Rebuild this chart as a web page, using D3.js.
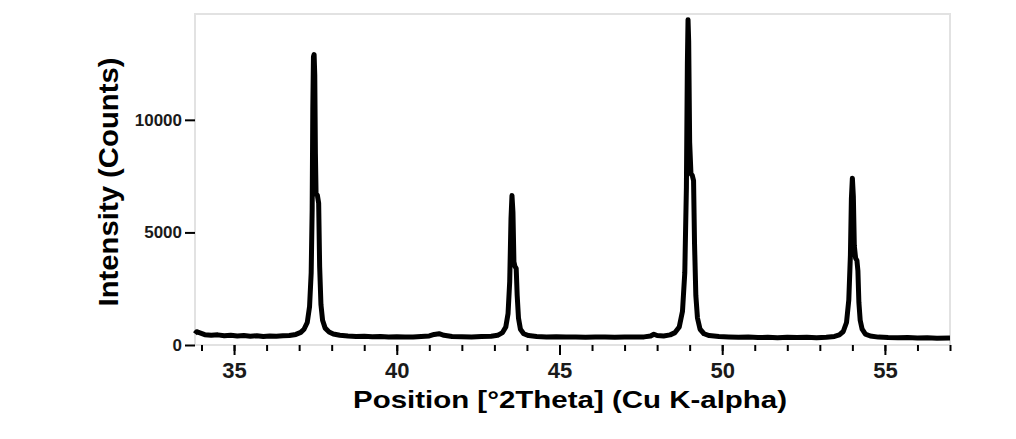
<!DOCTYPE html>
<html lang="en">

    <head>
        <meta charset="UTF-8">
        <title>XRD pattern</title>
        <!-- Load d3.js -->
        <script src="https://d3js.org/d3.v7.min.js"></script>
        <style>
          body { margin: 0; background: #fff; }
        </style>
    </head>

    <body>
        <!-- Create a div where the graph will take place -->
        <div id="xrd"></div>

        <script>

          // position in degrees 2theta
          var twoTheta = [
            33.80, 33.85, 33.95, 34.10, 34.30, 34.50, 34.70, 34.90, 35.10, 35.30,
            35.50, 35.70, 35.90, 36.10, 36.30, 36.50, 36.70, 36.90, 37.05, 37.15,
            37.25, 37.32, 37.37, 37.40, 37.42, 37.44, 37.46, 37.48, 37.50, 37.52,
            37.56, 37.60, 37.63, 37.67, 37.72, 37.80, 37.92, 38.05, 38.25, 38.50,
            38.75, 39.00, 39.25, 39.50, 39.75, 40.00, 40.25, 40.50, 40.75, 41.00,
            41.15, 41.30, 41.45, 41.70, 42.00, 42.30, 42.60, 42.90, 43.10, 43.25,
            43.35, 43.42, 43.47, 43.51, 43.54, 43.57, 43.60, 43.63, 43.67, 43.70,
            43.74, 43.80, 43.90, 44.05, 44.30, 44.60, 44.90, 45.20, 45.50, 45.80,
            46.10, 46.40, 46.70, 47.00, 47.30, 47.60, 47.80, 47.90, 48.00, 48.20,
            48.40, 48.55, 48.68, 48.78, 48.85, 48.90, 48.93, 48.95, 48.97, 49.00,
            49.04, 49.08, 49.12, 49.15, 49.19, 49.24, 49.32, 49.44, 49.60, 49.90,
            50.20, 50.50, 50.80, 51.10, 51.40, 51.70, 52.00, 52.30, 52.60, 52.90,
            53.20, 53.45, 53.60, 53.72, 53.82, 53.89, 53.94, 53.97, 54.00, 54.03,
            54.06, 54.10, 54.14, 54.17, 54.20, 54.24, 54.30, 54.40, 54.55, 54.80,
            55.10, 55.40, 55.70, 56.00, 56.30, 56.60, 57.00
          ];

          // intensity in counts at each position
          var counts = [
            500, 590, 540, 460, 430, 450, 410, 430, 400, 420,
            390, 410, 380, 400, 390, 410, 420, 470, 560, 700,
            1000, 1700, 3200, 6000, 10500, 12800, 12900, 12000, 8500, 6700,
            6650, 6300, 3500, 1800, 1100, 750, 580, 490, 430, 400,
            380, 390, 370, 380, 360, 370, 350, 360, 380, 400,
            470, 500, 430, 380, 370, 360, 380, 390, 430, 550,
            800, 1400, 2800, 5600, 6640, 5900, 3700, 3500, 3400, 2200,
            1200, 700, 500, 420, 380, 360, 370, 350, 360, 340,
            360, 350, 340, 360, 350, 360, 400, 480, 420, 400,
            450, 550, 800, 1500, 3200, 7000, 12500, 14450, 13500, 9000,
            7600, 7530, 7300, 4500, 2200, 1200, 700, 500, 420, 380,
            360, 340, 350, 330, 340, 320, 340, 330, 340, 320,
            340, 380, 450, 600, 1000, 2000, 4000, 6500, 7410, 6600,
            4400, 3850, 3750, 3300, 1900, 1100, 700, 480, 400, 350,
            330, 320, 330, 310, 320, 300, 310
          ];

          var data = twoTheta.map(function(t, i) { return {pos: t, cnt: counts[i]}; });

          var majorTicks = [35, 40, 45, 50, 55];
          var minorTicks = d3.range(34, 58, 1);
          var yTicks = [0, 5000, 10000];

          // set the dimensions and margins of the graph
          var margin = {top: 14, right: 66, bottom: 93, left: 195},
              width = 1016 - margin.left - margin.right,
              height = 439 - margin.top - margin.bottom;

          var svg = d3.select("#xrd")
            .append("svg")
              .attr("width", 1016)
              .attr("height", 439)
              .style("font-family", "'Liberation Sans', Arial, sans-serif")
            .append("g")
              .attr("transform", "translate(" + margin.left + "," + margin.top + ")");

          var x = d3.scaleLinear()
            .domain([33.8, 57])
            .range([0, width]);

          var y = d3.scaleLinear()
            .domain([0, 14700])
            .range([height - 1, 0]);

          // light grey frame
          svg.append("rect")
            .attr("x", 0)
            .attr("y", 0)
            .attr("width", width)
            .attr("height", height - 1)
            .attr("fill", "none")
            .attr("stroke", "#e2e2e2")
            .attr("stroke-width", 2);

          // minor ticks on the bottom
          var xMinor = svg.append("g")
            .attr("transform", "translate(0," + (height - 1) + ")")
            .call(d3.axisBottom(x).tickValues(minorTicks).tickSize(6).tickFormat(""));
          xMinor.select(".domain").remove();
          xMinor.selectAll("line").attr("stroke", "#000").attr("stroke-width", 2);

          // major ticks + labels
          var xMajor = svg.append("g")
            .attr("transform", "translate(0," + (height - 1) + ")")
            .call(d3.axisBottom(x).tickValues(majorTicks).tickSize(10).tickPadding(7));
          xMajor.select(".domain").remove();
          xMajor.selectAll("line").attr("stroke", "#000").attr("stroke-width", 2);
          xMajor.selectAll("text")
            .attr("font-size", 22)
            .attr("font-weight", "bold")
            .attr("fill", "#1a1a1a");

          // Y axis
          var yAxis = svg.append("g")
            .call(d3.axisLeft(y).tickValues(yTicks).tickSize(10).tickPadding(3).tickFormat(d3.format("d")));
          yAxis.select(".domain").remove();
          yAxis.selectAll("line").attr("stroke", "#000").attr("stroke-width", 2);
          yAxis.selectAll("text")
            .attr("font-size", 17)
            .attr("font-weight", "bold")
            .attr("fill", "#1a1a1a");

          // the pattern
          svg.append("path")
            .datum(data)
            .attr("fill", "none")
            .attr("stroke", "#000")
            .attr("stroke-width", 5)
            .attr("stroke-linejoin", "round")
            .attr("d", d3.line()
              .x(function(d) { return x(d.pos) })
              .y(function(d) { return y(d.cnt) })
            );

          // axis titles
          svg.append("text")
            .attr("x", 570 - margin.left)
            .attr("y", 408 - margin.top)
            .attr("text-anchor", "middle")
            .attr("font-size", 24)
            .attr("font-weight", "bold")
            .attr("textLength", 434)
            .attr("lengthAdjust", "spacingAndGlyphs")
            .text("Position [°2Theta] (Cu K-alpha)");

          svg.append("text")
            .attr("transform", "translate(" + (118 - margin.left) + "," + (182 - margin.top) + ") rotate(-90)")
            .attr("text-anchor", "middle")
            .attr("font-size", 28)
            .attr("font-weight", "bold")
            .attr("textLength", 249)
            .attr("lengthAdjust", "spacingAndGlyphs")
            .text("Intensity (Counts)");

        </script>

    </body>

</html>
